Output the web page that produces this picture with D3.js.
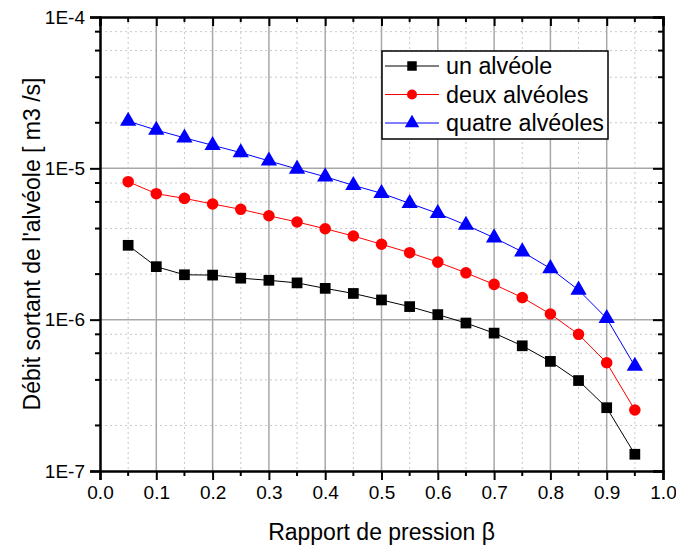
<!DOCTYPE html>
<html>
<head>
<meta charset="utf-8">
<script src="https://cdn.jsdelivr.net/npm/d3@7"></script>
<style>
  body { margin: 0; background: #fff; }
  text { font-family: Arial, "Liberation Sans", sans-serif; fill: #000; }
</style>
</head>
<body>
<div id="chart"></div>
<script>
// data
var beta = [0.05, 0.1, 0.15, 0.2, 0.25, 0.3, 0.35, 0.4, 0.45, 0.5,
            0.55, 0.6, 0.65, 0.7, 0.75, 0.8, 0.85, 0.9, 0.95];
var unAlveole = [3.1e-6, 2.24e-6, 1.98e-6, 1.97e-6, 1.88e-6, 1.82e-6, 1.75e-6, 1.61e-6, 1.49e-6, 1.35e-6,
                 1.22e-6, 1.08e-6, 9.5e-7, 8.15e-7, 6.72e-7, 5.3e-7, 3.96e-7, 2.62e-7, 1.29e-7];
var deuxAlveoles = [8.16e-6, 6.8e-6, 6.33e-6, 5.81e-6, 5.36e-6, 4.86e-6, 4.42e-6, 3.99e-6, 3.57e-6, 3.15e-6,
                    2.77e-6, 2.4e-6, 2.04e-6, 1.71e-6, 1.4e-6, 1.09e-6, 8.0e-7, 5.19e-7, 2.53e-7];
var quatreAlveoles = [2.05e-5, 1.79e-5, 1.59e-5, 1.42e-5, 1.27e-5, 1.12e-5, 9.9e-6, 8.8e-6, 7.72e-6, 6.84e-6,
                      5.87e-6, 5.04e-6, 4.22e-6, 3.48e-6, 2.81e-6, 2.18e-6, 1.57e-6, 1.02e-6, 4.93e-7];
var seriesNames = ["un alvéole", "deux alvéoles", "quatre alvéoles"];
var xTicks = [0, 0.1, 0.2, 0.3, 0.4, 0.5, 0.6, 0.7, 0.8, 0.9, 1.0];
var yTicks = [1e-7, 1e-6, 1e-5, 1e-4];
var yTickLabels = ["1E-7", "1E-6", "1E-5", "1E-4"];

var series = [
  {name: seriesNames[0], values: unAlveole, color: "#000000", symbol: d3.symbolSquare},
  {name: seriesNames[1], values: deuxAlveoles, color: "#ff0000", symbol: d3.symbolCircle},
  {name: seriesNames[2], values: quatreAlveoles, color: "#0000ff", symbol: d3.symbolTriangle}
];

var margin = {top: 17, right: 13, bottom: 78, left: 100};
var W = 676, H = 549;
var width = W - margin.left - margin.right;
var height = H - margin.top - margin.bottom;

var x = d3.scaleLinear().domain([0, 1]).range([0, width]);
var y = d3.scaleLog().domain([1e-7, 1e-4]).range([height, 0]);

var svg = d3.select("#chart").append("svg")
  .attr("width", W)
  .attr("height", H);
svg.append("rect").attr("width", W).attr("height", H).attr("fill", "#fff");

var g = svg.append("g")
  .attr("transform", "translate(" + margin.left + "," + margin.top + ")");

// minor ticks / grid values
var xMinor = d3.range(0.05, 1, 0.1);
var yMinor = [];
[1e-7, 1e-6, 1e-5].forEach(function(dec) {
  [2, 4, 6, 8].forEach(function(m) { yMinor.push(dec * m); });
});

// dotted minor grid
g.append("g").selectAll("line").data(xMinor).enter().append("line")
  .attr("x1", function(d) { return x(d); }).attr("x2", function(d) { return x(d); })
  .attr("y1", 0).attr("y2", height)
  .attr("stroke", "#c8c8c8").attr("stroke-width", 1).attr("stroke-dasharray", "2,3");
g.append("g").selectAll("line").data(yMinor).enter().append("line")
  .attr("y1", function(d) { return y(d); }).attr("y2", function(d) { return y(d); })
  .attr("x1", 0).attr("x2", width)
  .attr("stroke", "#c8c8c8").attr("stroke-width", 1).attr("stroke-dasharray", "2,3");

// solid major grid
g.append("g").selectAll("line").data(xTicks.slice(1, -1)).enter().append("line")
  .attr("x1", function(d) { return x(d); }).attr("x2", function(d) { return x(d); })
  .attr("y1", 0).attr("y2", height)
  .attr("stroke", "#a8a8a8").attr("stroke-width", 1.5);
g.append("g").selectAll("line").data(yTicks.slice(1, -1)).enter().append("line")
  .attr("y1", function(d) { return y(d); }).attr("y2", function(d) { return y(d); })
  .attr("x1", 0).attr("x2", width)
  .attr("stroke", "#a8a8a8").attr("stroke-width", 1.5);

// axes
var xAxis = d3.axisBottom(x).tickValues(xTicks).tickSize(9).tickPadding(6)
  .tickFormat(d3.format(".1f"));
var xAxisG = g.append("g").attr("transform", "translate(0," + height + ")").call(xAxis);
xAxisG.selectAll("text").style("font-size", "19px");
xAxisG.append("g").selectAll("line").data(xMinor).enter().append("line")
  .attr("x1", function(d) { return x(d); }).attr("x2", function(d) { return x(d); })
  .attr("y1", 0).attr("y2", 5).attr("stroke", "#000").attr("stroke-width", 2);

var yAxis = d3.axisLeft(y).tickValues(yTicks).tickSize(10).tickPadding(5)
  .tickFormat(function(d, i) { return yTickLabels[i]; });
var yAxisG = g.append("g").call(yAxis);
yAxisG.selectAll("text").style("font-size", "19px");
yAxisG.append("g").selectAll("line").data(yMinor).enter().append("line")
  .attr("y1", function(d) { return y(d); }).attr("y2", function(d) { return y(d); })
  .attr("x1", 0).attr("x2", -5).attr("stroke", "#000").attr("stroke-width", 2);

// mirror axes (inward ticks)
var topAxis = d3.axisBottom(x).tickValues(xTicks).tickSize(9).tickFormat("");
var topG = g.append("g").call(topAxis);
topG.append("g").selectAll("line").data(xMinor).enter().append("line")
  .attr("x1", function(d) { return x(d); }).attr("x2", function(d) { return x(d); })
  .attr("y1", 0).attr("y2", 5).attr("stroke", "#000").attr("stroke-width", 2);

var rightAxis = d3.axisLeft(y).tickValues(yTicks).tickSize(10).tickFormat("");
var rightG = g.append("g").attr("transform", "translate(" + width + ",0)").call(rightAxis);
rightG.append("g").selectAll("line").data(yMinor).enter().append("line")
  .attr("y1", function(d) { return y(d); }).attr("y2", function(d) { return y(d); })
  .attr("x1", 0).attr("x2", -5).attr("stroke", "#000").attr("stroke-width", 2);

[xAxisG, yAxisG, topG, rightG].forEach(function(a) {
  a.select(".domain").attr("stroke-width", 2.5).attr("stroke", "#000");
  a.selectAll(".tick line").attr("stroke-width", 2);
  a.selectAll("text").attr("fill", "#000").style("font-family", "Arial, 'Liberation Sans', sans-serif");
});

// series lines + markers
var line = d3.line()
  .x(function(d, i) { return x(beta[i]); })
  .y(function(d) { return y(d); });

series.forEach(function(s) {
  g.append("path")
    .datum(s.values)
    .attr("fill", "none")
    .attr("stroke", s.color)
    .attr("stroke-width", 1)
    .attr("d", line);

  var size = s.symbol === d3.symbolSquare ? 115 : (s.symbol === d3.symbolCircle ? 105 : 115);
  g.append("g").selectAll("path").data(s.values).enter().append("path")
    .attr("d", d3.symbol().type(s.symbol).size(size))
    .attr("transform", function(d, i) { return "translate(" + x(beta[i]) + "," + y(d) + ")"; })
    .attr("fill", s.color);
});

// legend
var legend = g.append("g").attr("transform", "translate(" + (382 - margin.left) + "," + (51 - margin.top) + ")");
legend.append("rect")
  .attr("width", 226).attr("height", 88)
  .attr("fill", "#fff").attr("stroke", "#000").attr("stroke-width", 1.5);
series.forEach(function(s, i) {
  var row = legend.append("g").attr("transform", "translate(0," + (15 + i * 28.5) + ")");
  row.append("line").attr("x1", 3).attr("x2", 57).attr("y1", 0).attr("y2", 0)
    .attr("stroke", s.color).attr("stroke-width", 1);
  var size = s.symbol === d3.symbolSquare ? 90 : (s.symbol === d3.symbolCircle ? 80 : 90);
  row.append("path").attr("d", d3.symbol().type(s.symbol).size(size))
    .attr("transform", "translate(30,0)").attr("fill", s.color);
  row.append("text").attr("x", 64).attr("y", 0).attr("dy", "0.35em")
    .style("font-size", "23.3px").text(s.name);
});

// axis titles
svg.append("text")
  .attr("x", margin.left + width / 2).attr("y", 540)
  .attr("text-anchor", "middle")
  .style("font-size", "23px")
  .text("Rapport de pression β");

svg.append("text")
  .attr("transform", "translate(40," + (margin.top + height / 2) + ") rotate(-90)")
  .attr("text-anchor", "middle")
  .style("font-size", "23px")
  .text("Débit sortant de l'alvéole [ m3 /s]");
</script>
</body>
</html>
